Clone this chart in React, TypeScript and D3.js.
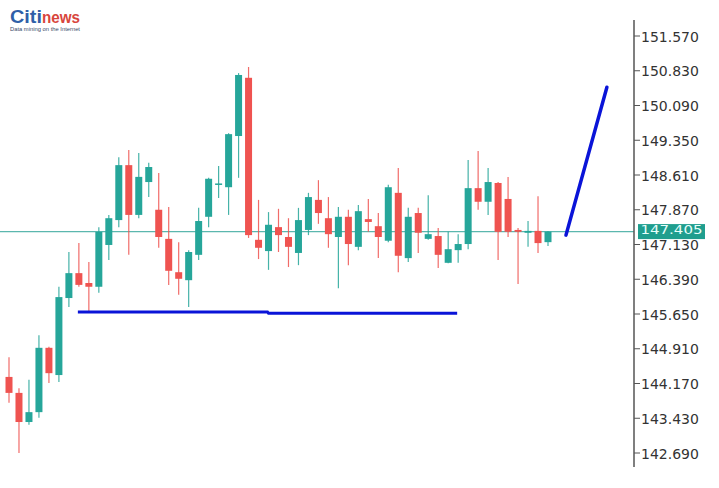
import React from "react";
import * as d3 from "d3";

const openPrices = [144.31,143.97,143.35,143.56,144.93,144.35,145.99,146.52,146.31,146.23,147.12,147.65,148.82,147.76,148.46,147.87,147.25,146.54,146.37,146.91,147.72,148.41,148.35,149.44,150.68,147.23,146.99,147.50,147.29,146.95,147.44,148.08,147.69,147.29,147.72,147.08,147.67,147.52,147.21,148.23,146.84,147.80,147.25,147.31,146.74,147.01,147.14,148.33,148.04,148.44,148.10,147.44,147.38,147.42,147.18];
const highPrices = [144.73,144.07,144.25,145.20,144.95,146.23,146.97,147.16,146.76,147.50,147.76,148.99,149.14,149.08,148.87,148.65,147.93,147.18,147.01,147.91,148.55,148.80,149.50,150.78,150.91,148.08,147.82,147.89,147.69,147.91,148.23,148.50,148.14,147.93,147.87,147.97,148.10,147.80,148.40,148.76,147.91,147.91,148.18,147.48,147.40,147.35,148.93,149.12,148.76,148.46,148.57,147.48,147.63,148.16,147.42];
const lowPrices = [143.76,142.69,143.29,143.44,144.18,144.20,145.80,146.23,145.69,146.10,146.80,147.50,146.91,147.69,148.14,147.06,146.27,146.06,145.80,146.80,147.50,148.12,147.76,148.55,147.27,146.82,146.59,146.97,146.65,146.69,147.33,147.57,147.06,146.20,146.69,147.01,147.40,146.84,147.18,146.54,146.76,146.95,147.23,146.63,146.73,146.74,147.03,147.87,147.76,146.80,147.29,146.29,147.08,146.95,147.10];
const closePrices = [143.97,143.35,143.56,144.93,144.39,146.01,146.52,146.27,146.23,147.40,147.69,148.82,147.76,148.57,148.78,147.29,146.57,146.40,146.97,147.63,148.53,148.43,149.48,150.74,147.33,147.06,147.55,147.33,147.08,147.65,148.14,147.80,147.35,147.72,147.14,147.84,147.61,147.29,148.35,146.89,147.72,147.38,147.35,146.91,147.03,147.14,148.33,148.04,148.46,147.40,147.40,147.40,147.42,147.16,147.405];

const tickValues = [151.57,150.83,150.09,149.35,148.61,147.87,147.13,146.39,145.65,144.91,144.17,143.43,142.69];
const lastPrice = 147.405;

// annotation lines: [bar index, price]
const supportLine: [number, number][] = [[6.9,145.695],[25.9,145.69],[26.0,145.665],[44.9,145.665]];
const trendLine: [number, number][] = [[55.8,147.33],[59.9,150.48]];

const UP = "#26a69a";
const DOWN = "#ef5350";

export default function App() {
  const W = 719, H = 488;
  const x = d3.scaleLinear().domain([0, openPrices.length - 1]).range([9, 548]);
  const y = d3.scaleLinear().domain([142.69, 151.57]).range([453, 36]);
  const fmt = d3.format(".3f");
  const axisX = 634;
  const bodyW = 7;
  const line = d3.line<[number, number]>().x(d => x(d[0])).y(d => y(d[1]));

  return (
    <svg width={W} height={H} style={{ position: "absolute", left: 0, top: 0, background: "#fff" }}
      fontFamily="'DejaVu Sans', Verdana, sans-serif">
      <rect x={0} y={0} width={W} height={H} fill="#fff" />
      {/* logo */}
      <g>
        <text x={10} y={23} fontFamily="'Liberation Sans', Arial, sans-serif" fontWeight="bold" fontSize={18}
          fill="#2f5fa8" textLength={32} lengthAdjust="spacingAndGlyphs">Citi</text>
        <text x={42} y={23} fontFamily="'Liberation Sans', Arial, sans-serif" fontWeight="bold" fontSize={17}
          fill="#d8453c" textLength={38} lengthAdjust="spacingAndGlyphs">news</text>
        <text x={10} y={31} fontFamily="'Liberation Sans', Arial, sans-serif" fontSize={5.5}
          fill="#3a4a6a" textLength={70} lengthAdjust="spacingAndGlyphs">Data mining on the Internet</text>
      </g>
      {/* last price line */}
      <line x1={0} x2={axisX} y1={y(lastPrice)} y2={y(lastPrice)} stroke="#5bb7ae" strokeWidth={1.3} />
      {/* candles */}
      {openPrices.map((o, i) => {
        const c = closePrices[i];
        const up = c >= o;
        const col = up ? UP : DOWN;
        const cx = x(i);
        const top = y(Math.max(o, c));
        const bot = y(Math.min(o, c));
        const h = Math.max(1.5, bot - top);
        return (
          <g key={i}>
            <line x1={cx} x2={cx} y1={y(highPrices[i])} y2={y(lowPrices[i])} stroke={col} strokeWidth={1.2} opacity={0.85} />
            <rect x={cx - bodyW / 2} y={top} width={bodyW} height={h} fill={col} />
          </g>
        );
      })}
      {/* annotations */}
      <path d={line(supportLine) || ""} fill="none" stroke="#0a14d8" strokeWidth={3} />
      <path d={line(trendLine) || ""} fill="none" stroke="#0a14d8" strokeWidth={3.5} strokeLinecap="round" />
      {/* axis */}
      <line x1={axisX} x2={axisX} y1={20} y2={467} stroke="#555" strokeWidth={1.5} />
      {tickValues.map((t, i) => (
        <g key={i}>
          <line x1={axisX} x2={axisX + 6} y1={y(t)} y2={y(t)} stroke="#555" strokeWidth={1} />
          <text x={axisX + 7} y={y(t)} dy="0.4em" fontSize={14} fill="#333">{fmt(t)}</text>
        </g>
      ))}
      {/* last price label */}
      <rect x={638} y={y(lastPrice) - 7.5} width={67} height={15} fill="#1f9e8e" />
      <text x={640.5} y={y(lastPrice) + 2.6} fontSize={12.5} fill="#e8fffb" textLength={62} lengthAdjust="spacingAndGlyphs">{fmt(lastPrice)}</text>
    </svg>
  );
}
